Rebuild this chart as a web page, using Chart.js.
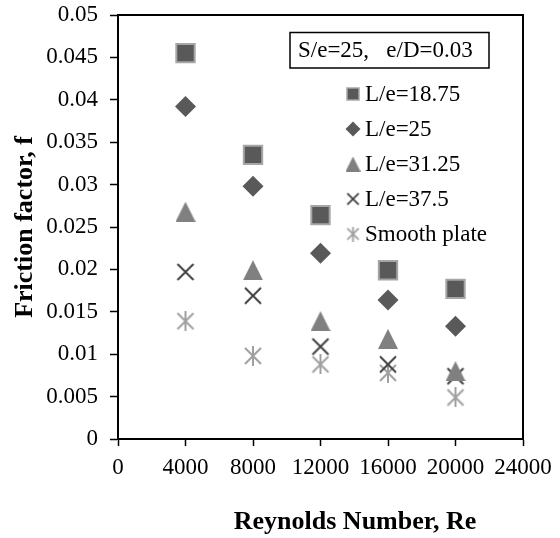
<!DOCTYPE html>
<html>
<head>
<meta charset="utf-8">
<script src="https://cdn.jsdelivr.net/npm/chart.js@4/dist/chart.umd.min.js"></script>
<style>
  html, body { margin: 0; padding: 0; background: #fff; }
  #wrap { width: 560px; height: 538px; }
</style>
</head>
<body>
<div id="wrap"><canvas id="frictionChart" width="560" height="538"></canvas></div>
<script>
// =========================
// DATA
// =========================
const reynolds = [4000, 8000, 12000, 16000, 20000];

const fLe1875 = [0.0455, 0.0335, 0.0264, 0.0199, 0.0177];
const fLe25 = [0.0392, 0.0298, 0.0219, 0.0164, 0.0133];
const fLe3125 = [0.0268, 0.0199, 0.0139, 0.0118, 0.0080];
const fLe375 = [0.0197, 0.0169, 0.0109, 0.0088, 0.0074];
const fSmooth = [0.0139, 0.0098, 0.0088, 0.0078, 0.0049];

const seriesNames = ["L/e=18.75", "L/e=25", "L/e=31.25", "L/e=37.5", "Smooth plate"];
const infoText = "S/e=25,   e/D=0.03";

const xTickLabels = ["0", "4000", "8000", "12000", "16000", "20000", "24000"];
const yTickLabels = ["0", "0.005", "0.01", "0.015", "0.02", "0.025", "0.03",
                     "0.035", "0.04", "0.045", "0.05"];

const xTitle = "Reynolds Number, Re";
const yTitle = "Friction factor, f";

const SERIF = "'Liberation Serif', 'Times New Roman', serif";

// =========================
// MARKERS (canvas images)
// =========================
function makeMarker(kind, size, color, lw) {
  const c = document.createElement("canvas");
  c.width = size;
  c.height = size;
  const g = c.getContext("2d");
  const m = lw;
  g.strokeStyle = color;
  g.fillStyle = color;
  g.lineWidth = lw;
  g.beginPath();
  if (kind === "triangle") {
    g.moveTo(size / 2, 0);
    g.lineTo(size, size);
    g.lineTo(0, size);
    g.closePath();
    g.fill();
  } else if (kind === "x") {
    g.moveTo(m, m); g.lineTo(size - m, size - m);
    g.moveTo(size - m, m); g.lineTo(m, size - m);
    g.stroke();
  } else if (kind === "star") {
    g.moveTo(m, m); g.lineTo(size - m, size - m);
    g.moveTo(size - m, m); g.lineTo(m, size - m);
    g.moveTo(size / 2, 0); g.lineTo(size / 2, size);
    g.stroke();
  }
  return c;
}

const triBig = makeMarker("triangle", 20, "#808080", 1);
const xBig = makeMarker("x", 20, "#404040", 2);
const starBig = makeMarker("star", 20, "#a0a0a0", 2);

const triSmall = makeMarker("triangle", 15, "#808080", 1);
const xSmall = makeMarker("x", 15, "#404040", 1.8);
const starSmall = makeMarker("star", 15, "#a0a0a0", 1.8);

function points(xs, ys) {
  return xs.map((x, i) => ({ x: x, y: ys[i] }));
}

// =========================
// PLUGIN: frame, info box, legend, x title
// =========================
const decorPlugin = {
  id: "decor",
  afterDraw(chart) {
    const ctx = chart.ctx;
    const a = chart.chartArea;
    ctx.save();

    // top and right frame lines
    ctx.strokeStyle = "#000";
    ctx.lineWidth = 2;
    ctx.beginPath();
    ctx.moveTo(a.left, a.top);
    ctx.lineTo(a.right, a.top);
    ctx.lineTo(a.right, a.bottom);
    ctx.stroke();

    // parameter box
    ctx.lineWidth = 1.5;
    ctx.strokeRect(290, 32.5, 199, 35.5);
    ctx.fillStyle = "#000";
    ctx.font = "23px " + SERIF;
    ctx.textBaseline = "middle";
    ctx.textAlign = "left";
    ctx.fillText(infoText, 298, 51);

    // legend
    const lx = 353, tx = 365, ly0 = 94, dy = 35;
    chart.data.datasets.forEach((ds, i) => {
      const y = ly0 + i * dy;
      ctx.save();
      if (i === 0) {
        ctx.fillStyle = "#595959";
        ctx.strokeStyle = "#a6a6a6";
        ctx.lineWidth = 1.5;
        ctx.fillRect(lx - 6, y - 6, 12, 12);
        ctx.strokeRect(lx - 6, y - 6, 12, 12);
      } else if (i === 1) {
        ctx.fillStyle = "#595959";
        ctx.beginPath();
        ctx.moveTo(lx, y - 7.5);
        ctx.lineTo(lx + 7.5, y);
        ctx.lineTo(lx, y + 7.5);
        ctx.lineTo(lx - 7.5, y);
        ctx.closePath();
        ctx.fill();
      } else {
        const img = [null, null, triSmall, xSmall, starSmall][i];
        ctx.drawImage(img, lx - img.width / 2, y - img.height / 2);
      }
      ctx.restore();
      ctx.fillStyle = "#000";
      ctx.fillText(seriesNames[i], tx, y + 1);
    });

    // x axis title
    ctx.font = "bold 26px " + SERIF;
    ctx.textAlign = "center";
    ctx.fillText(xTitle, 355, 522);

    ctx.restore();
  }
};

// =========================
// CHART
// =========================
const ctx = document.getElementById("frictionChart").getContext("2d");

const frictionChart = new Chart(ctx, {
  type: "scatter",
  data: {
    datasets: [
      {
        label: seriesNames[0],
        data: points(reynolds, fLe1875),
        pointStyle: "rect",
        pointRadius: 13,
        backgroundColor: "#595959",
        borderColor: "#a6a6a6",
        borderWidth: 2
      },
      {
        label: seriesNames[1],
        data: points(reynolds, fLe25),
        pointStyle: "rectRot",
        pointRadius: 10.5,
        backgroundColor: "#595959",
        borderColor: "#595959",
        borderWidth: 0
      },
      {
        label: seriesNames[2],
        data: points(reynolds, fLe3125),
        pointStyle: triBig,
        pointRadius: 10
      },
      {
        label: seriesNames[3],
        data: points(reynolds, fLe375),
        pointStyle: xBig,
        pointRadius: 10
      },
      {
        label: seriesNames[4],
        data: points(reynolds, fSmooth),
        pointStyle: starBig,
        pointRadius: 10
      }
    ]
  },
  options: {
    responsive: false,
    animation: false,
    layout: { padding: { top: 15, right: 37, bottom: 0, left: 0 } },
    plugins: {
      legend: { display: false },
      tooltip: { enabled: false }
    },
    scales: {
      x: {
        type: "linear",
        min: 0,
        max: 24000,
        afterFit: (s) => {
          s.height = 99;
          s.paddingLeft = 0;
          s.paddingRight = 0;
        },
        afterBuildTicks: (s) => {
          s.ticks = xTickLabels.map((t) => ({ value: Number(t) }));
        },
        ticks: {
          color: "#000",
          font: { family: SERIF, size: 23 },
          padding: 8,
          maxRotation: 0,
          autoSkip: false,
          callback: (v, i) => xTickLabels[i]
        },
        grid: {
          drawOnChartArea: false,
          drawTicks: true,
          tickLength: 7,
          tickColor: "#000",
          tickWidth: 1.5
        },
        border: { display: true, color: "#000", width: 2 }
      },
      y: {
        type: "linear",
        min: 0,
        max: 0.05,
        afterFit: (s) => {
          s.width = 118;
          s.paddingTop = 0;
          s.paddingBottom = 0;
        },
        afterBuildTicks: (s) => {
          s.ticks = yTickLabels.map((t) => ({ value: Number(t) }));
        },
        ticks: {
          color: "#000",
          font: { family: SERIF, size: 23 },
          padding: 12,
          autoSkip: false,
          callback: (v, i) => yTickLabels[i]
        },
        title: {
          display: true,
          text: yTitle,
          color: "#000",
          font: { family: SERIF, size: 26, weight: "bold" },
          padding: { top: 10, bottom: 0 }
        },
        grid: {
          drawOnChartArea: false,
          drawTicks: true,
          tickLength: 8,
          tickColor: "#000",
          tickWidth: 1.5
        },
        border: { display: true, color: "#000", width: 2 }
      }
    }
  },
  plugins: [decorPlugin]
});
</script>
</body>
</html>
